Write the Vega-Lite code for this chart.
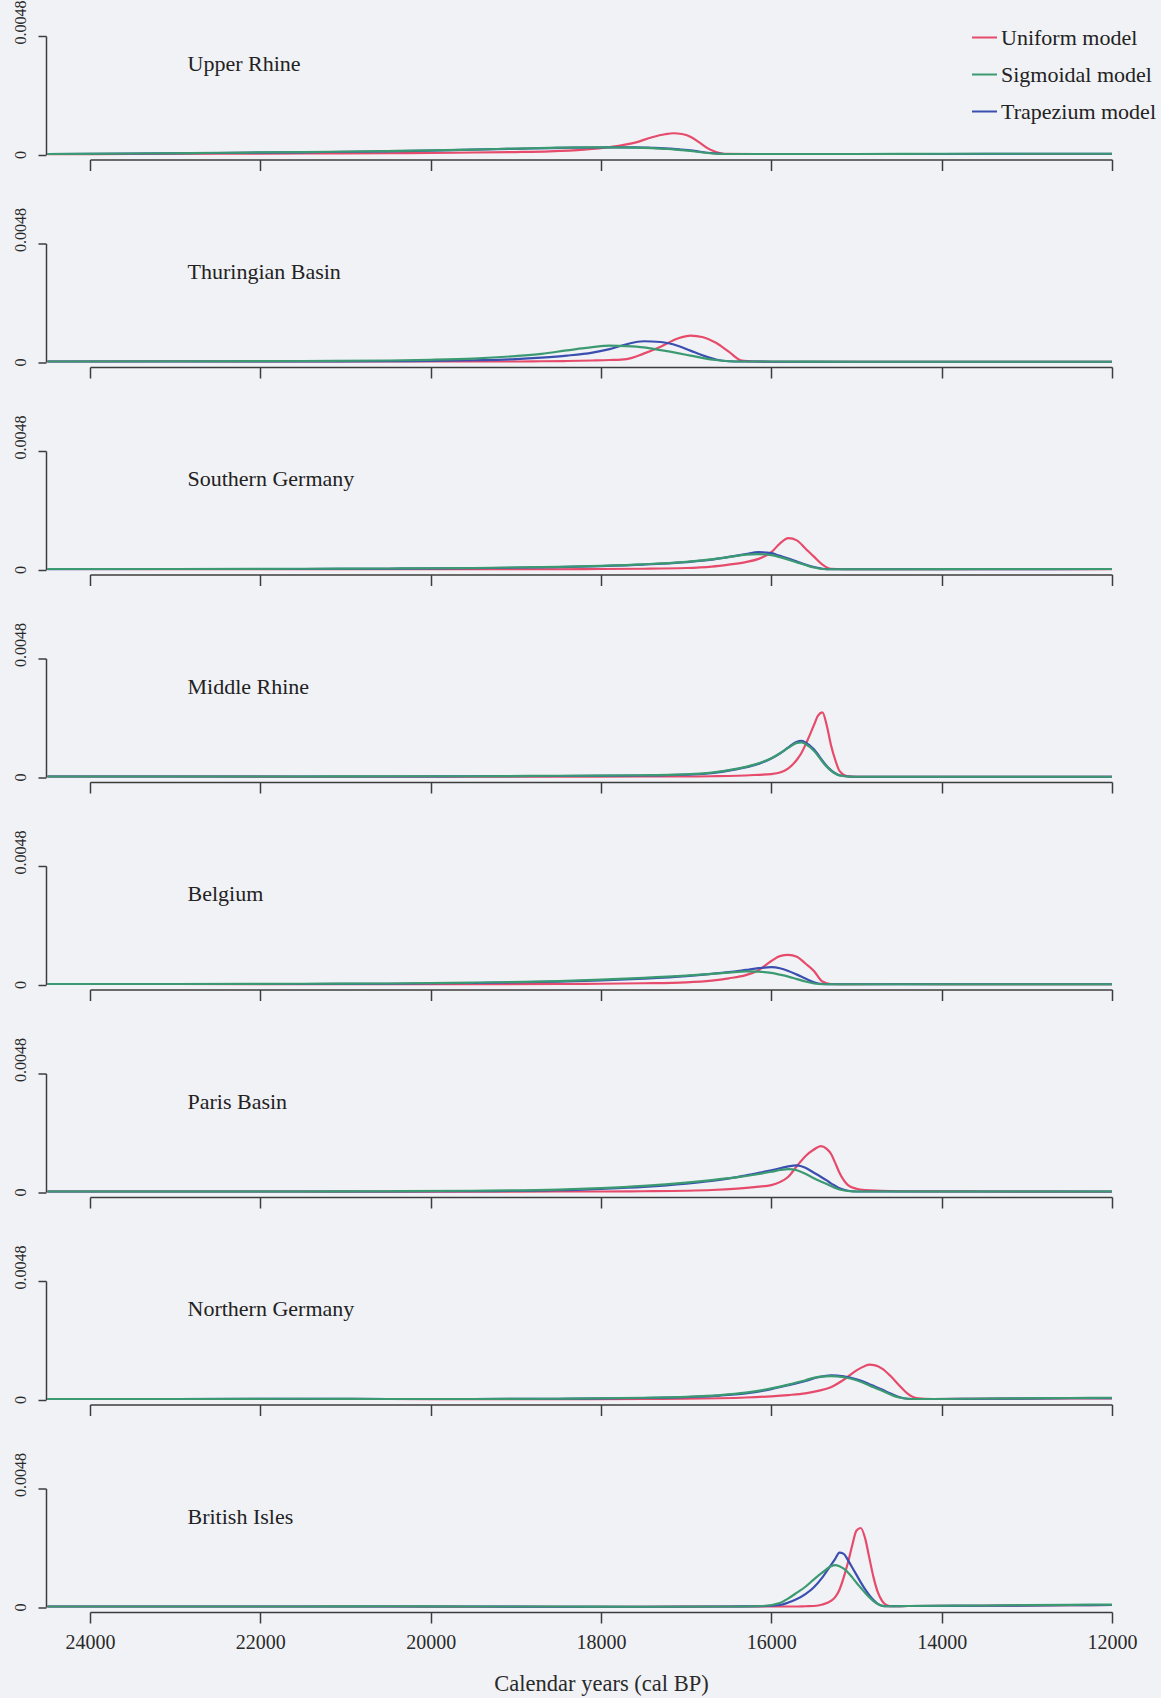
{
"$schema": "https://vega.github.io/schema/vega-lite/v6.json",
"background": "#f1f2f6",
"padding": {"left": 12, "top": 0, "right": 5, "bottom": 4},
"spacing": 88.5,
"bounds": "flush",
"resolve": {"scale": {"color": "shared"}, "legend": {"color": "independent"}},
"config": {
 "view": {"stroke": null},
 "axis": {"domainColor": "#3c3c3c", "tickColor": "#3c3c3c", "domainWidth": 1.5, "tickWidth": 1.5, "labelColor": "#2a2a2a", "labelFont": "Liberation Serif", "titleFont": "Liberation Serif", "titleFontWeight": "normal", "titleColor": "#2a2a2a", "grid": false},
 "axisY": {"offset": 44, "tickSize": 8, "labelAngle": 270, "labelAlign": "center", "labelBaseline": "bottom", "labelPadding": 10, "labelFontSize": 16},
 "axisX": {"offset": 5, "tickSize": 11, "labelFlush": false},
 "title": {"font": "Liberation Serif", "fontSize": 22, "fontWeight": "normal", "color": "#222222", "anchor": "start", "frame": "group", "offset": -50, "dx": 97.5, "dy": 26, "baseline": "middle"}
},
"data": {"values": [
{"r":"UR","x":24500,"U":0.00001,"T":0.00002,"S":0.00002},
{"r":"UR","x":23500,"U":0.00002,"T":0.00004,"S":0.00004},
{"r":"UR","x":22500,"U":0.00003,"T":0.00006,"S":0.00007},
{"r":"UR","x":21500,"U":0.00004,"T":0.00009,"S":0.0001},
{"r":"UR","x":20500,"U":0.00005,"T":0.00013,"S":0.00014},
{"r":"UR","x":20000,"U":0.00006,"T":0.00016,"S":0.00017},
{"r":"UR","x":19500,"U":0.00008,"T":0.0002,"S":0.0002},
{"r":"UR","x":19000,"U":0.0001,"T":0.00023,"S":0.00024},
{"r":"UR","x":18600,"U":0.00013,"T":0.00026,"S":0.00027},
{"r":"UR","x":18200,"U":0.0002,"T":0.00028,"S":0.00029},
{"r":"UR","x":17900,"U":0.0003,"T":0.00029,"S":0.00029},
{"r":"UR","x":17600,"U":0.00048,"T":0.00029,"S":0.00028},
{"r":"UR","x":17400,"U":0.0007,"T":0.00027,"S":0.00026},
{"r":"UR","x":17250,"U":0.00082,"T":0.00025,"S":0.00023},
{"r":"UR","x":17150,"U":0.00086,"T":0.00023,"S":0.00021},
{"r":"UR","x":17050,"U":0.00083,"T":0.0002,"S":0.00018},
{"r":"UR","x":16950,"U":0.00072,"T":0.00017,"S":0.00015},
{"r":"UR","x":16850,"U":0.0005,"T":0.00012,"S":0.0001},
{"r":"UR","x":16750,"U":0.00026,"T":0.00007,"S":0.00006},
{"r":"UR","x":16650,"U":0.0001,"T":0.00004,"S":0.00003},
{"r":"UR","x":16550,"U":0.00003,"T":0.00002,"S":0.00002},
{"r":"UR","x":16000,"U":0.00002,"T":0.00002,"S":0.00002},
{"r":"UR","x":15000,"U":0.00002,"T":0.00002,"S":0.00002},
{"r":"UR","x":14000,"U":0.00002,"T":0.00002,"S":0.00003},
{"r":"UR","x":13000,"U":0.00002,"T":0.00003,"S":0.00003},
{"r":"UR","x":12000,"U":0.00002,"T":0.00003,"S":0.00003},

{"r":"TB","x":24500,"U":0.00002,"T":0.00002,"S":0.00002},
{"r":"TB","x":23000,"U":0.00003,"T":0.00002,"S":0.00003},
{"r":"TB","x":21500,"U":0.00002,"T":0.00002,"S":0.00004},
{"r":"TB","x":20500,"U":0.00002,"T":0.00003,"S":0.00006},
{"r":"TB","x":20000,"U":0.00002,"T":0.00004,"S":0.00009},
{"r":"TB","x":19500,"U":0.00002,"T":0.00007,"S":0.00014},
{"r":"TB","x":19000,"U":0.00002,"T":0.00012,"S":0.00024},
{"r":"TB","x":18700,"U":0.00003,"T":0.00018,"S":0.00033},
{"r":"TB","x":18400,"U":0.00004,"T":0.00026,"S":0.00047},
{"r":"TB","x":18100,"U":0.00006,"T":0.00038,"S":0.0006},
{"r":"TB","x":17900,"U":0.00008,"T":0.00052,"S":0.00066},
{"r":"TB","x":17700,"U":0.00012,"T":0.00072,"S":0.00064},
{"r":"TB","x":17500,"U":0.00034,"T":0.00084,"S":0.00059},
{"r":"TB","x":17300,"U":0.00062,"T":0.00081,"S":0.00048},
{"r":"TB","x":17100,"U":0.00095,"T":0.00066,"S":0.00036},
{"r":"TB","x":16950,"U":0.00107,"T":0.00046,"S":0.00026},
{"r":"TB","x":16800,"U":0.001,"T":0.00026,"S":0.00016},
{"r":"TB","x":16650,"U":0.00078,"T":0.0001,"S":0.00008},
{"r":"TB","x":16500,"U":0.00042,"T":0.00003,"S":0.00003},
{"r":"TB","x":16350,"U":0.00006,"T":0.00002,"S":0.00002},
{"r":"TB","x":16200,"U":0.00002,"T":0.00002,"S":0.00002},
{"r":"TB","x":16000,"U":0.00001,"T":0.00001,"S":0.00002},
{"r":"TB","x":15000,"U":0.00001,"T":0.00001,"S":0.00001},
{"r":"TB","x":14000,"U":0.00001,"T":0.00001,"S":0.00001},
{"r":"TB","x":13000,"U":0.00001,"T":0.00001,"S":0.00001},
{"r":"TB","x":12000,"U":0.00001,"T":0.00001,"S":0.00001},

{"r":"SG","x":24500,"U":0.00002,"T":0.00001,"S":0.00002},
{"r":"SG","x":23000,"U":0.00001,"T":0.00002,"S":0.00002},
{"r":"SG","x":21500,"U":0.00001,"T":0.00002,"S":0.00003},
{"r":"SG","x":20500,"U":0.00001,"T":0.00003,"S":0.00004},
{"r":"SG","x":19500,"U":0.00001,"T":0.00005,"S":0.00006},
{"r":"SG","x":18500,"U":0.00001,"T":0.0001,"S":0.00011},
{"r":"SG","x":18000,"U":0.00002,"T":0.00014,"S":0.00015},
{"r":"SG","x":17500,"U":0.00003,"T":0.0002,"S":0.00021},
{"r":"SG","x":17000,"U":0.00006,"T":0.0003,"S":0.00031},
{"r":"SG","x":16700,"U":0.00012,"T":0.0004,"S":0.00041},
{"r":"SG","x":16500,"U":0.0002,"T":0.00051,"S":0.0005},
{"r":"SG","x":16300,"U":0.0003,"T":0.00062,"S":0.0006},
{"r":"SG","x":16150,"U":0.00043,"T":0.0007,"S":0.00062},
{"r":"SG","x":16000,"U":0.0007,"T":0.00066,"S":0.00058},
{"r":"SG","x":15900,"U":0.00105,"T":0.00055,"S":0.0005},
{"r":"SG","x":15800,"U":0.00127,"T":0.00044,"S":0.0004},
{"r":"SG","x":15700,"U":0.00118,"T":0.00032,"S":0.00029},
{"r":"SG","x":15600,"U":0.00085,"T":0.0002,"S":0.00018},
{"r":"SG","x":15500,"U":0.00052,"T":0.0001,"S":0.00008},
{"r":"SG","x":15400,"U":0.0002,"T":0.00003,"S":0.00002},
{"r":"SG","x":15300,"U":0.00003,"T":0.00001,"S":0.00001},
{"r":"SG","x":15150,"U":0.00001,"T":0.00001,"S":0.00001},
{"r":"SG","x":14500,"U":0.00001,"T":0.00001,"S":0.00001},
{"r":"SG","x":13500,"U":0.00001,"T":0.00001,"S":0.00002},
{"r":"SG","x":12000,"U":0.00001,"T":0.00002,"S":0.00002},

{"r":"MR","x":24500,"U":0.00002,"T":0.00002,"S":0.00002},
{"r":"MR","x":23000,"U":0.00002,"T":0.00002,"S":0.00002},
{"r":"MR","x":21500,"U":0.00001,"T":0.00002,"S":0.00002},
{"r":"MR","x":20500,"U":0.00001,"T":0.00002,"S":0.00003},
{"r":"MR","x":19500,"U":0.00001,"T":0.00003,"S":0.00003},
{"r":"MR","x":18500,"U":0.00001,"T":0.00004,"S":0.00005},
{"r":"MR","x":17500,"U":0.00002,"T":0.00006,"S":0.00007},
{"r":"MR","x":17000,"U":0.00002,"T":0.0001,"S":0.00011},
{"r":"MR","x":16700,"U":0.00003,"T":0.00016,"S":0.00018},
{"r":"MR","x":16400,"U":0.00005,"T":0.00032,"S":0.00034},
{"r":"MR","x":16200,"U":0.00008,"T":0.00048,"S":0.0005},
{"r":"MR","x":16000,"U":0.00012,"T":0.00075,"S":0.00076},
{"r":"MR","x":15900,"U":0.00018,"T":0.00095,"S":0.00096},
{"r":"MR","x":15800,"U":0.00035,"T":0.0012,"S":0.00118},
{"r":"MR","x":15700,"U":0.0007,"T":0.00143,"S":0.00138},
{"r":"MR","x":15650,"U":0.00095,"T":0.00146,"S":0.0014},
{"r":"MR","x":15600,"U":0.0013,"T":0.0014,"S":0.00134},
{"r":"MR","x":15500,"U":0.0021,"T":0.00112,"S":0.00106},
{"r":"MR","x":15450,"U":0.0025,"T":0.0009,"S":0.00085},
{"r":"MR","x":15400,"U":0.00262,"T":0.00066,"S":0.00062},
{"r":"MR","x":15350,"U":0.0021,"T":0.00045,"S":0.00042},
{"r":"MR","x":15300,"U":0.0013,"T":0.00028,"S":0.00026},
{"r":"MR","x":15250,"U":0.0007,"T":0.00015,"S":0.00014},
{"r":"MR","x":15200,"U":0.00025,"T":0.00007,"S":0.00006},
{"r":"MR","x":15100,"U":0.00003,"T":0.00002,"S":0.00002},
{"r":"MR","x":15000,"U":0.00001,"T":0.00001,"S":0.00001},
{"r":"MR","x":14500,"U":0.00001,"T":0.00001,"S":0.00001},
{"r":"MR","x":13500,"U":0.00001,"T":0.00001,"S":0.00001},
{"r":"MR","x":12000,"U":0.00001,"T":0.00001,"S":0.00001},

{"r":"BE","x":24500,"U":0.00002,"T":0.00002,"S":0.00002},
{"r":"BE","x":23000,"U":0.00002,"T":0.00002,"S":0.00002},
{"r":"BE","x":21500,"U":0.00001,"T":0.00002,"S":0.00003},
{"r":"BE","x":20500,"U":0.00001,"T":0.00003,"S":0.00004},
{"r":"BE","x":19500,"U":0.00001,"T":0.00006,"S":0.00008},
{"r":"BE","x":18500,"U":0.00002,"T":0.00012,"S":0.00014},
{"r":"BE","x":18000,"U":0.00003,"T":0.00017,"S":0.0002},
{"r":"BE","x":17500,"U":0.00005,"T":0.00024,"S":0.00027},
{"r":"BE","x":17000,"U":0.00009,"T":0.00034,"S":0.00036},
{"r":"BE","x":16700,"U":0.00016,"T":0.00043,"S":0.00043},
{"r":"BE","x":16500,"U":0.00025,"T":0.0005,"S":0.00048},
{"r":"BE","x":16300,"U":0.00038,"T":0.00059,"S":0.00053},
{"r":"BE","x":16150,"U":0.00058,"T":0.00066,"S":0.00052},
{"r":"BE","x":16000,"U":0.00095,"T":0.0007,"S":0.00047},
{"r":"BE","x":15900,"U":0.00115,"T":0.00066,"S":0.0004},
{"r":"BE","x":15800,"U":0.0012,"T":0.00055,"S":0.00032},
{"r":"BE","x":15700,"U":0.00112,"T":0.0004,"S":0.00022},
{"r":"BE","x":15600,"U":0.00085,"T":0.00024,"S":0.00012},
{"r":"BE","x":15500,"U":0.00055,"T":0.00009,"S":0.00004},
{"r":"BE","x":15400,"U":0.00012,"T":0.00002,"S":0.00001},
{"r":"BE","x":15300,"U":0.00002,"T":0.00001,"S":0.00001},
{"r":"BE","x":15100,"U":0.00001,"T":0.00001,"S":0.00001},
{"r":"BE","x":14500,"U":0.00002,"T":0.00001,"S":0.00001},
{"r":"BE","x":13500,"U":0.00001,"T":0.00001,"S":0.00001},
{"r":"BE","x":12000,"U":0.00001,"T":0.00001,"S":0.00001},

{"r":"PB","x":24500,"U":0.00002,"T":0.00002,"S":0.00002},
{"r":"PB","x":23000,"U":0.00002,"T":0.00002,"S":0.00002},
{"r":"PB","x":21500,"U":0.00002,"T":0.00002,"S":0.00002},
{"r":"PB","x":20500,"U":0.00001,"T":0.00002,"S":0.00003},
{"r":"PB","x":19500,"U":0.00001,"T":0.00003,"S":0.00005},
{"r":"PB","x":18500,"U":0.00002,"T":0.00007,"S":0.0001},
{"r":"PB","x":18000,"U":0.00002,"T":0.00013,"S":0.00016},
{"r":"PB","x":17500,"U":0.00003,"T":0.00021,"S":0.00025},
{"r":"PB","x":17000,"U":0.00005,"T":0.00034,"S":0.00038},
{"r":"PB","x":16700,"U":0.00008,"T":0.00045,"S":0.00048},
{"r":"PB","x":16400,"U":0.00014,"T":0.0006,"S":0.0006},
{"r":"PB","x":16200,"U":0.0002,"T":0.00074,"S":0.0007},
{"r":"PB","x":16000,"U":0.00028,"T":0.00088,"S":0.00082},
{"r":"PB","x":15900,"U":0.0004,"T":0.00096,"S":0.00089},
{"r":"PB","x":15800,"U":0.00062,"T":0.00104,"S":0.00093},
{"r":"PB","x":15700,"U":0.00105,"T":0.00108,"S":0.00088},
{"r":"PB","x":15600,"U":0.00145,"T":0.00098,"S":0.00074},
{"r":"PB","x":15500,"U":0.00172,"T":0.00078,"S":0.00056},
{"r":"PB","x":15420,"U":0.00186,"T":0.00062,"S":0.00043},
{"r":"PB","x":15350,"U":0.00175,"T":0.00047,"S":0.00032},
{"r":"PB","x":15300,"U":0.00155,"T":0.00035,"S":0.00024},
{"r":"PB","x":15250,"U":0.00118,"T":0.00025,"S":0.00016},
{"r":"PB","x":15200,"U":0.00078,"T":0.00015,"S":0.0001},
{"r":"PB","x":15100,"U":0.00028,"T":0.00005,"S":0.00004},
{"r":"PB","x":15000,"U":0.00013,"T":0.00002,"S":0.00002},
{"r":"PB","x":14900,"U":0.00008,"T":0.00002,"S":0.00002},
{"r":"PB","x":14500,"U":0.00003,"T":0.00002,"S":0.00002},
{"r":"PB","x":13500,"U":0.00002,"T":0.00002,"S":0.00002},
{"r":"PB","x":12000,"U":0.00001,"T":0.00002,"S":0.00002},

{"r":"NG","x":24500,"U":0.00002,"T":0.00002,"S":0.00002},
{"r":"NG","x":23000,"U":0.00002,"T":0.00002,"S":0.00002},
{"r":"NG","x":21500,"U":0.00002,"T":0.00003,"S":0.00003},
{"r":"NG","x":20500,"U":0.00002,"T":0.00002,"S":0.00002},
{"r":"NG","x":19500,"U":0.00001,"T":0.00002,"S":0.00002},
{"r":"NG","x":18500,"U":0.00001,"T":0.00003,"S":0.00003},
{"r":"NG","x":17500,"U":0.00002,"T":0.00006,"S":0.00007},
{"r":"NG","x":17000,"U":0.00003,"T":0.0001,"S":0.00011},
{"r":"NG","x":16600,"U":0.00005,"T":0.00016,"S":0.00018},
{"r":"NG","x":16300,"U":0.00008,"T":0.00025,"S":0.00028},
{"r":"NG","x":16000,"U":0.00013,"T":0.00042,"S":0.00045},
{"r":"NG","x":15800,"U":0.00018,"T":0.00058,"S":0.0006},
{"r":"NG","x":15600,"U":0.00025,"T":0.00075,"S":0.00078},
{"r":"NG","x":15450,"U":0.00035,"T":0.0009,"S":0.00092},
{"r":"NG","x":15300,"U":0.0005,"T":0.00098,"S":0.00095},
{"r":"NG","x":15150,"U":0.0008,"T":0.00094,"S":0.0009},
{"r":"NG","x":15000,"U":0.00118,"T":0.00082,"S":0.00078},
{"r":"NG","x":14900,"U":0.00136,"T":0.0007,"S":0.00065},
{"r":"NG","x":14850,"U":0.00141,"T":0.00062,"S":0.00057},
{"r":"NG","x":14780,"U":0.00138,"T":0.00052,"S":0.00047},
{"r":"NG","x":14700,"U":0.00125,"T":0.0004,"S":0.00035},
{"r":"NG","x":14600,"U":0.00095,"T":0.00024,"S":0.0002},
{"r":"NG","x":14500,"U":0.00058,"T":0.0001,"S":0.00008},
{"r":"NG","x":14400,"U":0.00024,"T":0.00003,"S":0.00003},
{"r":"NG","x":14300,"U":0.00006,"T":0.00002,"S":0.00002},
{"r":"NG","x":14100,"U":0.00002,"T":0.00002,"S":0.00002},
{"r":"NG","x":13500,"U":0.00003,"T":0.00003,"S":0.00004},
{"r":"NG","x":12500,"U":0.00004,"T":0.00005,"S":0.00006},
{"r":"NG","x":12000,"U":0.00004,"T":0.00005,"S":0.00007},

{"r":"BI","x":24500,"U":0.00002,"T":0.00002,"S":0.00002},
{"r":"BI","x":23000,"U":0.00002,"T":0.00002,"S":0.00002},
{"r":"BI","x":21500,"U":0.00002,"T":0.00002,"S":0.00002},
{"r":"BI","x":20500,"U":0.00002,"T":0.00002,"S":0.00003},
{"r":"BI","x":19500,"U":0.00001,"T":0.00002,"S":0.00002},
{"r":"BI","x":18500,"U":0.00001,"T":0.00001,"S":0.00002},
{"r":"BI","x":17500,"U":0.00001,"T":0.00001,"S":0.00001},
{"r":"BI","x":16500,"U":0.00002,"T":0.00002,"S":0.00002},
{"r":"BI","x":16100,"U":0.00002,"T":0.00003,"S":0.00004},
{"r":"BI","x":15900,"U":0.00002,"T":0.00008,"S":0.00016},
{"r":"BI","x":15800,"U":0.00002,"T":0.00018,"S":0.00035},
{"r":"BI","x":15700,"U":0.00002,"T":0.00032,"S":0.00058},
{"r":"BI","x":15600,"U":0.00003,"T":0.00052,"S":0.00082},
{"r":"BI","x":15500,"U":0.00004,"T":0.0008,"S":0.00112},
{"r":"BI","x":15400,"U":0.0001,"T":0.0012,"S":0.0014},
{"r":"BI","x":15300,"U":0.00025,"T":0.0017,"S":0.00165},
{"r":"BI","x":15250,"U":0.0004,"T":0.00195,"S":0.0017},
{"r":"BI","x":15200,"U":0.0007,"T":0.0022,"S":0.00165},
{"r":"BI","x":15150,"U":0.0012,"T":0.00215,"S":0.00155},
{"r":"BI","x":15100,"U":0.0018,"T":0.0019,"S":0.0014},
{"r":"BI","x":15050,"U":0.0025,"T":0.0016,"S":0.0012},
{"r":"BI","x":15000,"U":0.0031,"T":0.0013,"S":0.00098},
{"r":"BI","x":14950,"U":0.0032,"T":0.001,"S":0.00078},
{"r":"BI","x":14900,"U":0.0028,"T":0.00072,"S":0.00058},
{"r":"BI","x":14850,"U":0.002,"T":0.00048,"S":0.0004},
{"r":"BI","x":14800,"U":0.0012,"T":0.00028,"S":0.00024},
{"r":"BI","x":14750,"U":0.0006,"T":0.00013,"S":0.00012},
{"r":"BI","x":14700,"U":0.00025,"T":0.00005,"S":0.00005},
{"r":"BI","x":14650,"U":0.00008,"T":0.00003,"S":0.00003},
{"r":"BI","x":14600,"U":0.00003,"T":0.00003,"S":0.00003},
{"r":"BI","x":14400,"U":0.00004,"T":0.00004,"S":0.00004},
{"r":"BI","x":13500,"U":0.00005,"T":0.00005,"S":0.00006},
{"r":"BI","x":12500,"U":0.00007,"T":0.00007,"S":0.00009},
{"r":"BI","x":12000,"U":0.00008,"T":0.00008,"S":0.0001}
]},
"vconcat": [
{"width": 1022, "height": 118.5, "title": {"text": "Upper Rhine", "offset": -50},
 "transform": [{"filter": "datum.r === 'UR'"}, {"fold": ["U", "T", "S"], "as": ["m", "y"]}],
 "mark": {"type": "line", "strokeWidth": 2.2, "clip": false, "interpolate": "monotone"},
 "encoding": {
  "x": {"field": "x", "type": "quantitative", "scale": {"domain": [12000, 24000], "reverse": true, "nice": false, "zero": false}, "axis": {"values": [24000, 22000, 20000, 18000, 16000, 14000, 12000], "labels": false, "title": null}},
  "y": {"field": "y", "type": "quantitative", "scale": {"domain": [0, 0.0048], "nice": false}, "axis": {"values": [0, 0.0048], "format": ".4~f", "title": null, "labelOffset": {"condition": {"test": "datum.value > 0", "value": -14}, "value": 0}}},
  "color": {"field": "m", "type": "nominal", "scale": {"domain": ["U", "S", "T"], "range": ["#e64b6b", "#3c9a72", "#3a4fb0"]},
   "legend": {"title": null, "orient": "none", "legendX": 881, "legendY": -12, "symbolType": "stroke", "symbolSize": 625, "symbolStrokeWidth": 2, "labelFont": "Liberation Serif", "labelFontSize": 22, "labelColor": "#222222", "labelOffset": 3, "rowPadding": 12, "labelLimit": 400, "labelExpr": "datum.label == 'U' ? 'Uniform model' : datum.label == 'S' ? 'Sigmoidal model' : 'Trapezium model'"}}
 }},
{"width": 1022, "height": 118.5, "title": {"text": "Thuringian Basin", "offset": -50},
 "transform": [{"filter": "datum.r === 'TB'"}, {"fold": ["U", "T", "S"], "as": ["m", "y"]}],
 "mark": {"type": "line", "strokeWidth": 2.2, "clip": false, "interpolate": "monotone"},
 "encoding": {
  "x": {"field": "x", "type": "quantitative", "scale": {"domain": [12000, 24000], "reverse": true, "nice": false, "zero": false}, "axis": {"values": [24000, 22000, 20000, 18000, 16000, 14000, 12000], "labels": false, "title": null}},
  "y": {"field": "y", "type": "quantitative", "scale": {"domain": [0, 0.0048], "nice": false}, "axis": {"values": [0, 0.0048], "format": ".4~f", "title": null, "labelOffset": {"condition": {"test": "datum.value > 0", "value": -14}, "value": 0}}},
  "color": {"field": "m", "type": "nominal", "scale": {"domain": ["U", "S", "T"], "range": ["#e64b6b", "#3c9a72", "#3a4fb0"]}, "legend": null}
 }},
{"width": 1022, "height": 118.5, "title": {"text": "Southern Germany", "offset": -50},
 "transform": [{"filter": "datum.r === 'SG'"}, {"fold": ["U", "T", "S"], "as": ["m", "y"]}],
 "mark": {"type": "line", "strokeWidth": 2.2, "clip": false, "interpolate": "monotone"},
 "encoding": {
  "x": {"field": "x", "type": "quantitative", "scale": {"domain": [12000, 24000], "reverse": true, "nice": false, "zero": false}, "axis": {"values": [24000, 22000, 20000, 18000, 16000, 14000, 12000], "labels": false, "title": null}},
  "y": {"field": "y", "type": "quantitative", "scale": {"domain": [0, 0.0048], "nice": false}, "axis": {"values": [0, 0.0048], "format": ".4~f", "title": null, "labelOffset": {"condition": {"test": "datum.value > 0", "value": -14}, "value": 0}}},
  "color": {"field": "m", "type": "nominal", "scale": {"domain": ["U", "S", "T"], "range": ["#e64b6b", "#3c9a72", "#3a4fb0"]}, "legend": null}
 }},
{"width": 1022, "height": 118.5, "title": {"text": "Middle Rhine", "offset": -50},
 "transform": [{"filter": "datum.r === 'MR'"}, {"fold": ["U", "T", "S"], "as": ["m", "y"]}],
 "mark": {"type": "line", "strokeWidth": 2.2, "clip": false, "interpolate": "monotone"},
 "encoding": {
  "x": {"field": "x", "type": "quantitative", "scale": {"domain": [12000, 24000], "reverse": true, "nice": false, "zero": false}, "axis": {"values": [24000, 22000, 20000, 18000, 16000, 14000, 12000], "labels": false, "title": null}},
  "y": {"field": "y", "type": "quantitative", "scale": {"domain": [0, 0.0048], "nice": false}, "axis": {"values": [0, 0.0048], "format": ".4~f", "title": null, "labelOffset": {"condition": {"test": "datum.value > 0", "value": -14}, "value": 0}}},
  "color": {"field": "m", "type": "nominal", "scale": {"domain": ["U", "S", "T"], "range": ["#e64b6b", "#3c9a72", "#3a4fb0"]}, "legend": null}
 }},
{"width": 1022, "height": 118.5, "title": {"text": "Belgium", "offset": -50},
 "transform": [{"filter": "datum.r === 'BE'"}, {"fold": ["U", "T", "S"], "as": ["m", "y"]}],
 "mark": {"type": "line", "strokeWidth": 2.2, "clip": false, "interpolate": "monotone"},
 "encoding": {
  "x": {"field": "x", "type": "quantitative", "scale": {"domain": [12000, 24000], "reverse": true, "nice": false, "zero": false}, "axis": {"values": [24000, 22000, 20000, 18000, 16000, 14000, 12000], "labels": false, "title": null}},
  "y": {"field": "y", "type": "quantitative", "scale": {"domain": [0, 0.0048], "nice": false}, "axis": {"values": [0, 0.0048], "format": ".4~f", "title": null, "labelOffset": {"condition": {"test": "datum.value > 0", "value": -14}, "value": 0}}},
  "color": {"field": "m", "type": "nominal", "scale": {"domain": ["U", "S", "T"], "range": ["#e64b6b", "#3c9a72", "#3a4fb0"]}, "legend": null}
 }},
{"width": 1022, "height": 118.5, "title": {"text": "Paris Basin", "offset": -50},
 "transform": [{"filter": "datum.r === 'PB'"}, {"fold": ["U", "T", "S"], "as": ["m", "y"]}],
 "mark": {"type": "line", "strokeWidth": 2.2, "clip": false, "interpolate": "monotone"},
 "encoding": {
  "x": {"field": "x", "type": "quantitative", "scale": {"domain": [12000, 24000], "reverse": true, "nice": false, "zero": false}, "axis": {"values": [24000, 22000, 20000, 18000, 16000, 14000, 12000], "labels": false, "title": null}},
  "y": {"field": "y", "type": "quantitative", "scale": {"domain": [0, 0.0048], "nice": false}, "axis": {"values": [0, 0.0048], "format": ".4~f", "title": null, "labelOffset": {"condition": {"test": "datum.value > 0", "value": -14}, "value": 0}}},
  "color": {"field": "m", "type": "nominal", "scale": {"domain": ["U", "S", "T"], "range": ["#e64b6b", "#3c9a72", "#3a4fb0"]}, "legend": null}
 }},
{"width": 1022, "height": 118.5, "title": {"text": "Northern Germany", "offset": -50},
 "transform": [{"filter": "datum.r === 'NG'"}, {"fold": ["U", "T", "S"], "as": ["m", "y"]}],
 "mark": {"type": "line", "strokeWidth": 2.2, "clip": false, "interpolate": "monotone"},
 "encoding": {
  "x": {"field": "x", "type": "quantitative", "scale": {"domain": [12000, 24000], "reverse": true, "nice": false, "zero": false}, "axis": {"values": [24000, 22000, 20000, 18000, 16000, 14000, 12000], "labels": false, "title": null}},
  "y": {"field": "y", "type": "quantitative", "scale": {"domain": [0, 0.0048], "nice": false}, "axis": {"values": [0, 0.0048], "format": ".4~f", "title": null, "labelOffset": {"condition": {"test": "datum.value > 0", "value": -14}, "value": 0}}},
  "color": {"field": "m", "type": "nominal", "scale": {"domain": ["U", "S", "T"], "range": ["#e64b6b", "#3c9a72", "#3a4fb0"]}, "legend": null}
 }},
{"width": 1022, "height": 118.5, "title": {"text": "British Isles", "offset": -50},
 "transform": [{"filter": "datum.r === 'BI'"}, {"fold": ["U", "T", "S"], "as": ["m", "y"]}],
 "mark": {"type": "line", "strokeWidth": 2.2, "clip": false, "interpolate": "monotone"},
 "encoding": {
  "x": {"field": "x", "type": "quantitative", "scale": {"domain": [12000, 24000], "reverse": true, "nice": false, "zero": false}, "axis": {"values": [24000, 22000, 20000, 18000, 16000, 14000, 12000], "format": "d", "labels": true, "labelFontSize": 20, "labelPadding": 9.5, "title": "Calendar years (cal BP)", "titleFontSize": 22.5, "titlePadding": 20}},
  "y": {"field": "y", "type": "quantitative", "scale": {"domain": [0, 0.0048], "nice": false}, "axis": {"values": [0, 0.0048], "format": ".4~f", "title": null, "labelOffset": {"condition": {"test": "datum.value > 0", "value": -14}, "value": 0}}},
  "color": {"field": "m", "type": "nominal", "scale": {"domain": ["U", "S", "T"], "range": ["#e64b6b", "#3c9a72", "#3a4fb0"]}, "legend": null}
 }}
]
}
